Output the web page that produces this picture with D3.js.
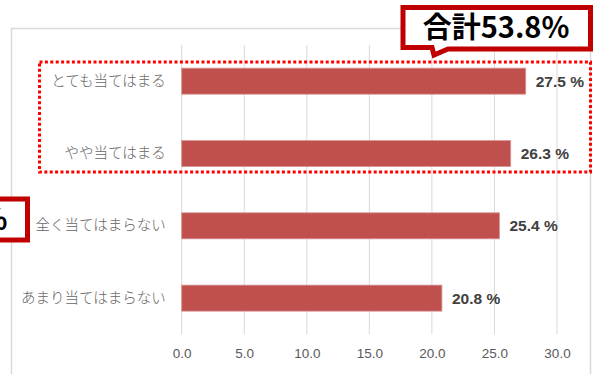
<!DOCTYPE html>
<html><head><meta charset="utf-8">
<script src="https://cdn.jsdelivr.net/npm/d3@7"></script>
<style>body{margin:0;background:#fff}svg{display:block}</style>
</head><body>
<script>
const categories = ["とても当てはまる","やや当てはまる","全く当てはまらない","あまり当てはまらない"];
const values = [27.5, 26.3, 25.4, 20.8];
const ticks = [0,5,10,15,20,25,30];
const calloutTop = "合計53.8%";
const calloutLeft = "合計46.2%";

const W=599,H=374;
const svg=d3.select("body").append("svg").attr("width",W).attr("height",H);

// chart border
svg.append("rect").attr("x",11.5).attr("y",28.5).attr("width",579).attr("height",400)
  .attr("fill","#fff").attr("stroke","#D9D9D9").attr("stroke-width",1.5);

const x=d3.scaleLinear().domain([0,30]).range([181.7,557]);
const y=d3.scaleBand().domain(categories).range([45,334.3]).paddingInner(0.64).paddingOuter(0.32);

// gridlines
svg.append("g").selectAll("line").data(ticks).join("line")
  .attr("x1",d=>x(d)).attr("x2",d=>x(d)).attr("y1",45).attr("y2",334.3)
  .attr("stroke","#D9D9D9").attr("stroke-width",1);

// x tick labels via axis
const xa=svg.append("g").attr("transform","translate(0,334.3)")
  .call(d3.axisBottom(x).tickValues(ticks).tickFormat(d3.format(".1f")).tickSize(0).tickPadding(14));
xa.select(".domain").remove();
xa.selectAll("text").attr("fill","#595959").style("font-family","'Liberation Sans',Arial,sans-serif").style("font-size","13.5px");

// y labels via axis
const ya=svg.append("g").attr("transform","translate(181.7,0)")
  .call(d3.axisLeft(y).tickSize(0).tickPadding(16));
ya.select(".domain").remove();
ya.selectAll("text").attr("fill","#666666").style("font-family","'Noto Sans CJK JP',sans-serif").style("font-size","14.5px").style("font-weight","300");

// bars
svg.append("g").selectAll("rect").data(values).join("rect")
  .attr("x",x(0)).attr("y",(d,i)=>y(categories[i]))
  .attr("width",d=>x(d)-x(0)).attr("height",y.bandwidth())
  .attr("fill","#C0504D").attr("stroke","#D99694").attr("stroke-width",0.8);

// value labels
svg.append("g").selectAll("text").data(values).join("text")
  .attr("x",d=>x(d)+10).attr("y",(d,i)=>y(categories[i])+y.bandwidth()/2)
  .attr("dy","0.35em").attr("fill","#404040")
  .style("font-family","'Liberation Sans',Arial,sans-serif").style("font-size","15.5px").style("font-weight","bold")
  .text(d=>d.toFixed(1)+" %");

// dotted highlight box
svg.append("rect").attr("x",39.5).attr("y",62).attr("width",551).attr("height",110)
  .attr("fill","none").attr("stroke","#FF0000").attr("stroke-width",3).attr("stroke-dasharray","3,2.4");

// top callout
const cp=d3.path();
cp.moveTo(403,7.5);cp.lineTo(590.5,7.5);cp.lineTo(590.5,49);cp.lineTo(448,49);
cp.lineTo(434,55);cp.lineTo(432,47.5);cp.lineTo(403,47.5);cp.closePath();
svg.append("path").attr("d",cp.toString()).attr("fill","#fff").attr("stroke","#C00000").attr("stroke-width",5).attr("stroke-linejoin","miter");
svg.append("text").attr("x",496).attr("y",28).attr("dy","0.35em").attr("text-anchor","middle")
  .attr("fill","#000").style("font-family","'Noto Sans CJK JP',sans-serif").style("font-size","29px").style("font-weight","bold")
  .text(calloutTop);

// left callout (mostly off-canvas)
svg.append("rect").attr("x",-170).attr("y",199).attr("width",197.5).attr("height",41)
  .attr("fill","#fff").attr("stroke","#C00000").attr("stroke-width",5);
svg.append("text").attr("x",7.5).attr("y",219.5).attr("dy","0.35em").attr("text-anchor","end")
  .attr("fill","#000").style("font-family","'Noto Sans CJK JP',sans-serif").style("font-size","29px").style("font-weight","bold")
  .text(calloutLeft);
</script>
</body></html>
